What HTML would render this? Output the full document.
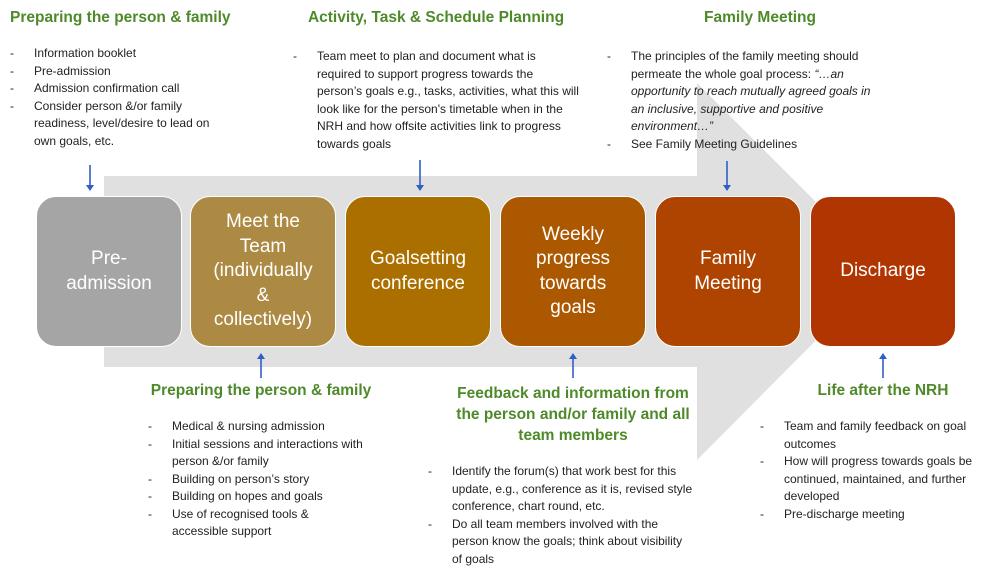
<!DOCTYPE html>
<html><head><meta charset="utf-8"><style>
body{margin:0;width:1000px;height:576px;background:#fff;position:relative;overflow:hidden;font-family:"Liberation Sans",sans-serif}
.h{position:absolute;color:#4e8a2a;font-weight:bold;font-size:15.5px;text-align:center;line-height:21px;white-space:nowrap}
.l{position:absolute;font-size:12px;line-height:17.5px;color:#222}
.l div{position:relative;padding-left:24px}
.l div:before{content:"-";position:absolute;left:0}
.b{position:absolute;top:196px;width:146px;height:151px;border-radius:20px;border:1px solid #fff;box-sizing:border-box;color:#fff;font-size:19px;line-height:24.5px;display:flex;align-items:center;justify-content:center;text-align:center}
</style></head><body>
<svg width="1000" height="576" style="position:absolute;left:0;top:0">
<polygon points="104,176 697,176 697,83 885,271 697,460 697,367 104,367" fill="#e0e0e0"/>
<g stroke="#2f5fc4" stroke-width="1.6" fill="#2f5fc4">
<line x1="90" y1="165" x2="90" y2="186"/><polygon points="86,185 94,185 90,191" stroke="none"/>
<line x1="420" y1="160" x2="420" y2="186"/><polygon points="416,185 424,185 420,191" stroke="none"/>
<line x1="727" y1="161" x2="727" y2="186"/><polygon points="723,185 731,185 727,191" stroke="none"/>
<line x1="261" y1="358" x2="261" y2="378"/><polygon points="257,359 265,359 261,353" stroke="none"/>
<line x1="573" y1="358" x2="573" y2="378"/><polygon points="569,359 577,359 573,353" stroke="none"/>
<line x1="883" y1="358" x2="883" y2="378"/><polygon points="879,359 887,359 883,353" stroke="none"/>
</g></svg>
<div class="b" style="left:36px;background:#a5a5a5">Pre-<br>admission</div>
<div class="b" style="left:190px;background:#ad8a44">Meet the<br>Team<br>(individually<br>&amp;<br>collectively)</div>
<div class="b" style="left:345px;background:#ab6f00">Goalsetting<br>conference</div>
<div class="b" style="left:500px;background:#ac5800">Weekly<br>progress<br>towards<br>goals</div>
<div class="b" style="left:655px;background:#ae4400">Family<br>Meeting</div>
<div class="b" style="left:810px;background:#b03500">Discharge</div>

<div class="h" style="left:10px;top:7px;text-align:left">Preparing the person &amp; family</div>
<div class="l" style="left:10px;top:45px;width:200px">
<div>Information booklet</div><div>Pre-admission</div><div>Admission confirmation call</div><div>Consider person &amp;/or family readiness, level/desire to lead on own goals, etc.</div></div>

<div class="h" style="left:286px;top:7px;width:300px">Activity, Task &amp; Schedule Planning</div>
<div class="l" style="left:293px;top:48px;width:287px">
<div>Team meet to plan and document what is required to support progress towards the person’s goals e.g., tasks, activities, what this will look like for the person's timetable when in the NRH and how offsite activities link to progress towards goals</div></div>

<div class="h" style="left:660px;top:7px;width:200px">Family Meeting</div>
<div class="l" style="left:607px;top:48px;width:280px">
<div>The principles of the family meeting should permeate the whole goal process: <i>“…an opportunity to reach mutually agreed goals in an inclusive, supportive and positive environment…”</i></div><div>See Family Meeting Guidelines</div></div>

<div class="h" style="left:111px;top:380px;width:300px">Preparing the person &amp; family</div>
<div class="l" style="left:148px;top:418px;width:215px">
<div>Medical &amp; nursing admission</div><div>Initial sessions and interactions with person &amp;/or family</div><div>Building on person’s story</div><div>Building on hopes and goals</div><div>Use of recognised tools &amp; accessible support</div></div>

<div class="h" style="left:423px;top:383px;width:300px">Feedback and information from<br>the person and/or family and all<br>team members</div>
<div class="l" style="left:428px;top:463px;width:266px">
<div>Identify the forum(s) that work best for this update, e.g., conference as it is, revised style conference, chart round, etc.</div><div>Do all team members involved with the person know the goals; think about visibility of goals</div></div>

<div class="h" style="left:783px;top:380px;width:200px">Life after the NRH</div>
<div class="l" style="left:760px;top:418px;width:238px">
<div>Team and family feedback on goal outcomes</div><div>How will progress towards goals be continued, maintained, and further developed</div><div>Pre-discharge meeting</div></div>
</body></html>
